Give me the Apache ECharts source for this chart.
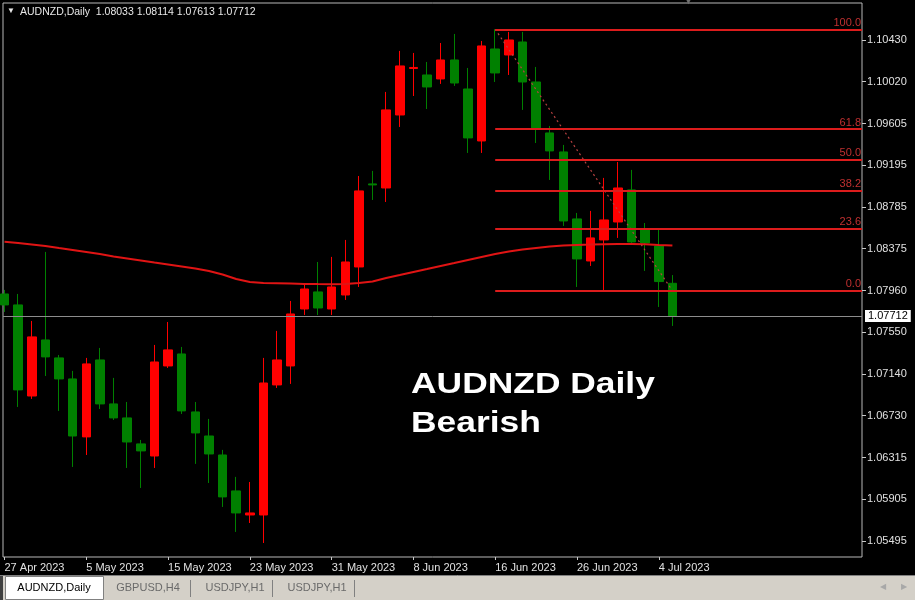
<!DOCTYPE html>
<html><head><meta charset="utf-8">
<script src="https://cdn.jsdelivr.net/npm/echarts@6/dist/echarts.min.js"></script>
<style>html,body{margin:0;padding:0;background:#000;overflow:hidden}#c{width:915px;height:600px}</style>
</head><body><div id="c"></div>
<script>
const symbolName = 'AUDNZD,Daily';
const dates = ['27 Apr 2023','28 Apr 2023','1 May 2023','2 May 2023','3 May 2023','4 May 2023','5 May 2023','8 May 2023','9 May 2023','10 May 2023','11 May 2023','12 May 2023','15 May 2023','16 May 2023','17 May 2023','18 May 2023','19 May 2023','22 May 2023','23 May 2023','24 May 2023','25 May 2023','26 May 2023','29 May 2023','30 May 2023','31 May 2023','1 Jun 2023','2 Jun 2023','5 Jun 2023','6 Jun 2023','7 Jun 2023','8 Jun 2023','9 Jun 2023','12 Jun 2023','13 Jun 2023','14 Jun 2023','15 Jun 2023','16 Jun 2023','19 Jun 2023','20 Jun 2023','21 Jun 2023','22 Jun 2023','23 Jun 2023','26 Jun 2023','27 Jun 2023','28 Jun 2023','29 Jun 2023','30 Jun 2023','3 Jul 2023','4 Jul 2023','5 Jul 2023'];
const opens = [1.07928,1.07820,1.06923,1.07475,1.07298,1.07091,1.06520,1.07278,1.06845,1.06707,1.06451,1.06332,1.07219,1.07337,1.06766,1.06529,1.06342,1.05988,1.05751,1.05751,1.07032,1.07219,1.07780,1.07948,1.07780,1.07918,1.08194,1.09012,1.08972,1.09691,1.10149,1.10085,1.10046,1.10233,1.09947,1.09435,1.10341,1.10282,1.10410,1.10016,1.09514,1.09327,1.08667,1.08253,1.08460,1.08637,1.08953,1.08559,1.08401,1.08033];
const highs = [1.07968,1.07928,1.07662,1.08342,1.07327,1.07170,1.07298,1.07396,1.07101,1.06864,1.06490,1.07426,1.07652,1.07406,1.06864,1.06697,1.06392,1.06126,1.06076,1.07298,1.07564,1.07859,1.08036,1.08243,1.08293,1.08460,1.09090,1.09140,1.09918,1.10322,1.10302,1.10213,1.10400,1.10489,1.10154,1.10420,1.10535,1.10509,1.10509,1.10164,1.09583,1.09396,1.08726,1.08746,1.09071,1.09228,1.09150,1.08627,1.08559,1.08114];
const lows = [1.07751,1.06815,1.06894,1.07120,1.06776,1.06224,1.06342,1.06795,1.06687,1.06214,1.06017,1.06214,1.07199,1.06746,1.06254,1.06066,1.05830,1.05584,1.05672,1.05475,1.07002,1.07042,1.07721,1.07721,1.07721,1.07869,1.07997,1.08854,1.08834,1.09573,1.09878,1.09750,1.09997,1.09977,1.09317,1.09317,1.10016,1.10085,1.09741,1.09415,1.09051,1.08598,1.07997,1.08204,1.07961,1.08480,1.08421,1.08155,1.07800,1.07613];
const closes = [1.07820,1.06983,1.07505,1.07308,1.07091,1.06529,1.07239,1.06845,1.06707,1.06470,1.06382,1.07258,1.07377,1.06776,1.06559,1.06352,1.05929,1.05771,1.05771,1.07051,1.07278,1.07731,1.07977,1.07790,1.07997,1.08243,1.08943,1.09002,1.09741,1.10174,1.10159,1.09967,1.10233,1.10006,1.09465,1.10371,1.10105,1.10430,1.10016,1.09563,1.09337,1.08647,1.08273,1.08480,1.08657,1.08972,1.08440,1.08430,1.08050,1.07712];
const movingAvg = [1.08443,1.08430,1.08416,1.08401,1.08381,1.08362,1.08342,1.08322,1.08298,1.08278,1.08258,1.08238,1.08219,1.08199,1.08179,1.08155,1.08120,1.08076,1.08046,1.08037,1.08034,1.08031,1.08027,1.08025,1.08024,1.08027,1.08037,1.08051,1.08086,1.08115,1.08145,1.08174,1.08204,1.08233,1.08263,1.08293,1.08322,1.08347,1.08366,1.08381,1.08396,1.08406,1.08411,1.08414,1.08418,1.08421,1.08421,1.08418,1.08411,1.08405];
const priceTicks = [1.10430,1.10020,1.09605,1.09195,1.08785,1.08375,1.07960,1.07550,1.07140,1.06730,1.06315,1.05905,1.05495];
const dateLabelEvery = 6;
const fibRatios = [0.0,23.6,38.2,50.0,61.8,100.0];
const fibStartIdx = 36, fibEndIdx = 49, fibLowIdx = 44;
const tabNames = ['AUDNZD,Daily','GBPUSD,H4','USDJPY,H1','USDJPY,H1'];
const overlayLines = ['AUDNZD Daily','Bearish'];

const xMin = -0.11, xMax = 62.91, yMin = 1.05337, yMax = 1.10794;
const FONT = 'Liberation Sans';
const fibHigh = highs[fibStartIdx], fibLow = lows[fibLowIdx];
const last = opens.length - 1;
const dateTicks = dates.map((d,i)=>i).filter(i => i % dateLabelEvery === 0);

const chart = echarts.init(document.getElementById('c'));
const fibData = fibRatios.map(r => {
  const v = fibLow + (fibHigh - fibLow) * r / 100;
  return [{name: r.toFixed(1), coord: [fibStartIdx, v]}, {coord: [xMax, v]}];
});
const titleText = symbolName + '  ' + [opens[last], highs[last], lows[last], closes[last]].map(v=>v.toFixed(5)).join(' ');

const tabX = [5, 103, 190, 272, 354];
const graphics = [
  {type:'rect', shape:{x:0,y:575,width:915,height:25}, style:{fill:'#d4d0c8'}, z:10},
  {type:'line', shape:{x1:0,y1:575.5,x2:915,y2:575.5}, style:{stroke:'#808080',lineWidth:1}, z:11},
  {type:'rect', shape:{x:0,y:576,width:3,height:24}, style:{fill:'#404040'}, z:11},
  {type:'rect', shape:{x:5.5,y:576.5,width:98,height:23}, style:{fill:'#ffffff',stroke:'#808080',lineWidth:1}, z:11},
  {type:'text', x:684, y:-3, style:{text:'\u25BC', fill:'#707070', font:'9px "'+FONT+'"'}, z:12},
  {type:'text', x:7, y:7, style:{text:'\u25BC', fill:'#e8e8e8', font:'8px "'+FONT+'"'}, z:12},
  {type:'text', x:20, y:6.5, style:{text:titleText, fill:'#e8e8e8', font:'10.5px "'+FONT+'"'}, z:12},
  {type:'text', x:880, y:583, style:{text:'\u25C0', fill:'#a8a8a8', font:'8px "'+FONT+'"'}, z:12},
  {type:'text', x:901, y:583, style:{text:'\u25B6', fill:'#a8a8a8', font:'8px "'+FONT+'"'}, z:12}
];
tabNames.forEach((t,i) => {
  graphics.push({type:'text', x:(tabX[i] + (i===0?98:82)/2) + (i===0?0:4), y:588, style:{text:t, fill:i===0?'#000':'#6a6a6a', font:'11px "'+FONT+'"', align:'center', verticalAlign:'middle'}, z:12});
  if (i>0) graphics.push({type:'line', shape:{x1:tabX[i+1]+0.5,y1:580,x2:tabX[i+1]+0.5,y2:597}, style:{stroke:'#808080',lineWidth:1}, z:11});
});
overlayLines.forEach((t,i) => {
  graphics.push({type:'text', x:411, y:370 + i*38.5, scaleX:1.18, style:{text:t, fill:'#ffffff', font:'bold 30px "'+FONT+'"', verticalAlign:'top'}, z:12});
});

chart.setOption({
  backgroundColor:'#000',
  animation:false,
  textStyle:{fontFamily:FONT},
  grid:{left:3, right:53, top:3, bottom:43, show:true, borderColor:'#b8b8b8', borderWidth:1, backgroundColor:'#000'},
  xAxis:{type:'value', min:xMin, max:xMax, splitLine:{show:false}, axisLine:{show:false, onZero:false},
    axisTick:{show:true, customValues:dateTicks, length:3, lineStyle:{color:'#c8c8c8'}},
    axisLabel:{customValues:dateTicks, formatter:v=>dates[Math.round(v)]||'', color:'#e0e0e0', fontSize:11, align:'left', margin:5, fontFamily:FONT}},
  yAxis:{type:'value', position:'right', min:yMin, max:yMax, scale:true, splitLine:{show:false}, axisLine:{show:false, onZero:false},
    axisTick:{show:true, customValues:priceTicks, length:4, lineStyle:{color:'#c8c8c8'}},
    axisLabel:{customValues:priceTicks, formatter:v=>v.toFixed(5), color:'#e0e0e0', fontSize:11, margin:5, fontFamily:FONT}},
  graphic:graphics,
  series:[
    {type:'candlestick', data:opens.map((o,i)=>[i,o,closes[i],lows[i],highs[i]]), encode:{x:0,y:[1,2,3,4]},
      barWidth:9, itemStyle:{color:'#ff0000', color0:'#008000', borderColor:'#ff0000', borderColor0:'#008000', borderWidth:1}, z:2},
    {type:'line', data:movingAvg.map((v,i)=>[i,v]), showSymbol:false, symbol:'none', lineStyle:{color:'#e01414', width:2}, z:3},
    {type:'line', data:[[fibStartIdx, fibHigh],[fibEndIdx, fibLow]], showSymbol:false, symbol:'none',
      lineStyle:{color:'#b84040', width:1.2, type:[2,3]}, z:4,
      markLine:{silent:true, symbol:['none','none'], animation:false, precision:5,
        lineStyle:{color:'#dc1c1c', width:2, type:'solid'},
        label:{show:true, position:'insideEndTop', formatter:'{b}', color:'#c03030', fontSize:11, distance:1, fontFamily:FONT},
        data: fibData.concat([{yAxis:closes[last], name:'price', lineStyle:{color:'#8c8c8c', width:1, type:'solid'},
          label:{position:'end', formatter:p=>Number(p.value).toFixed(5), color:'#000', backgroundColor:'#ffffff', borderColor:'#000', borderWidth:1, padding:[1,3,0,3], fontSize:11, distance:3}}])
      }}
  ]
});
</script></body></html>
